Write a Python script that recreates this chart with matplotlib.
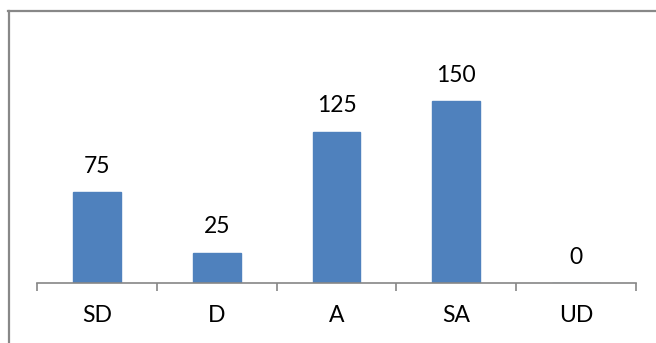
import matplotlib.pyplot as plt
from matplotlib.lines import Line2D

categories = ["SD", "D", "A", "SA", "UD"]
counts = [75, 25, 125, 150, 0]

plt.rcParams['font.family'] = ['Lato', 'DejaVu Sans']

fig = plt.figure(figsize=(6.56, 3.43), dpi=100)
W, H = 656, 343

# plot area: baseline at y=283 px, categories span x=37..636 px
ax = fig.add_axes([37 / W, (H - 283) / H, (636 - 37) / W, 218 / H])
x = range(len(categories))
ax.bar(x, counts, width=0.4, color="#4F81BD", edgecolor="#4F81BD")
ax.set_xlim(-0.5, len(categories) - 0.5)
ax.set_ylim(0, 180)

for xi, v in zip(x, counts):
    ax.annotate(str(v), (xi, v), xytext=(0, 11), textcoords="offset points",
                ha="center", va="bottom", fontsize=16.5, color="black")

for s in ["top", "right", "left"]:
    ax.spines[s].set_visible(False)
ax.spines["bottom"].set_color("#868686")
ax.spines["bottom"].set_linewidth(1.2)
ax.set_yticks([])
ax.set_xticks([i - 0.5 for i in range(len(categories) + 1)])
ax.set_xticklabels([])
ax.set_xticks(list(x), minor=True)
ax.set_xticklabels(categories, minor=True, fontsize=16.5)
ax.tick_params(axis="x", which="major", length=5.5, width=1.2, color="#868686")
ax.tick_params(axis="x", which="minor", length=0, pad=16)

# outer chart border (left and top edges visible)
fig.add_artist(Line2D([8.5 / W, 8.5 / W], [0, 1 - 11 / H], transform=fig.transFigure,
                      color="#888888", lw=1.6))
fig.add_artist(Line2D([8 / W, 1], [1 - 11 / H, 1 - 11 / H], transform=fig.transFigure,
                      color="#888888", lw=1.6))

fig.savefig("out.png", dpi=100)
